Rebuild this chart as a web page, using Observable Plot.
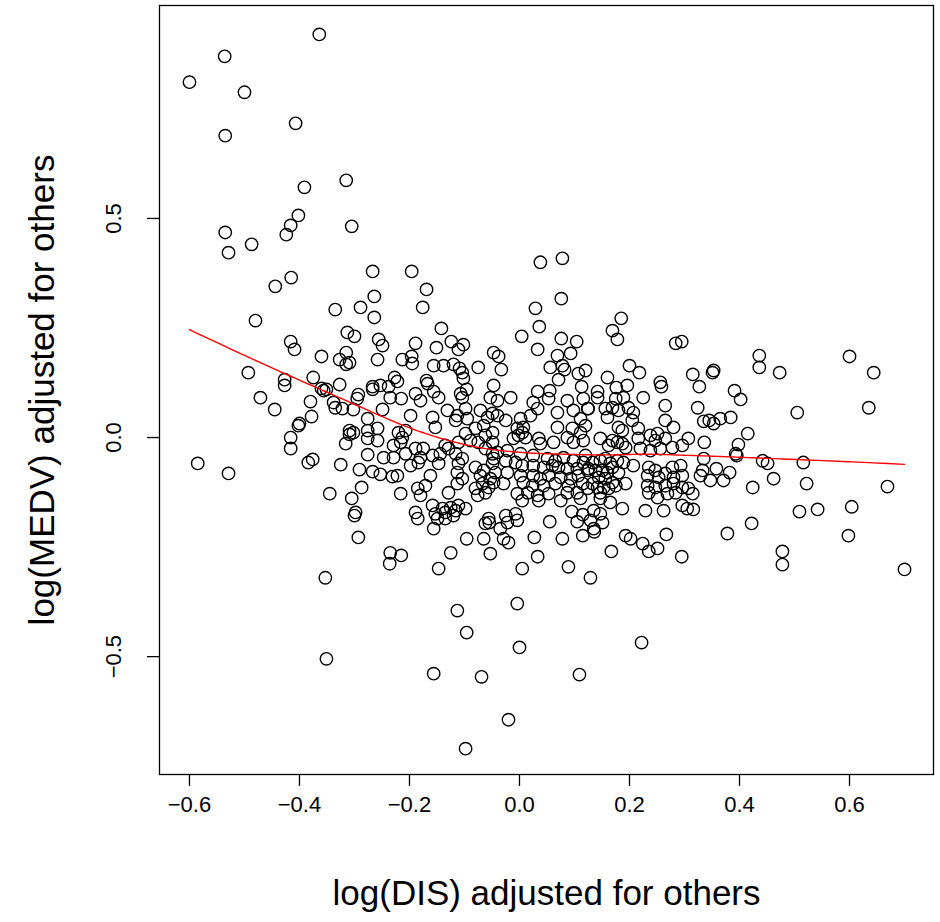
<!DOCTYPE html>
<html>
<head>
<meta charset="utf-8">
<script src="https://cdn.jsdelivr.net/npm/d3@7"></script>
<script src="https://cdn.jsdelivr.net/npm/@observablehq/plot@0.6"></script>
<style>
  html, body { margin: 0; padding: 0; background: white; }
</style>
</head>
<body>
<div id="chart"></div>
<script>
// Partial-residual style scatter: [log(DIS) adjusted, log(MEDV) adjusted]
const topLeft = [[-0.364,0.920],[-0.536,0.870],[-0.600,0.811],[-0.500,0.788],[-0.407,0.717],[-0.535,0.689],[-0.391,0.571],[-0.315,0.587],[-0.402,0.507],[-0.416,0.484],[-0.424,0.463],[-0.305,0.482],[-0.535,0.468],[-0.487,0.441],[-0.529,0.422],[0.038,0.400],[0.078,0.409]];
const upperLeft = [[-0.267,0.379],[-0.196,0.379],[-0.415,0.365],[-0.444,0.345],[-0.264,0.322],[-0.289,0.297],[-0.335,0.292],[-0.264,0.274],[-0.480,0.267],[-0.313,0.240],[-0.300,0.231],[-0.256,0.224],[-0.249,0.210],[-0.416,0.219],[-0.409,0.201],[-0.189,0.215],[-0.360,0.185],[-0.315,0.194],[-0.327,0.178],[-0.309,0.171],[-0.315,0.167],[-0.258,0.178],[-0.213,0.178],[-0.196,0.185],[-0.195,0.169],[-0.493,0.148],[-0.427,0.132],[-0.427,0.119],[-0.375,0.137],[-0.327,0.121],[-0.360,0.112],[-0.351,0.110],[-0.356,0.107],[-0.267,0.116],[-0.267,0.110],[-0.253,0.119],[-0.238,0.116],[-0.227,0.137],[-0.222,0.128],[-0.293,0.098],[-0.295,0.089],[-0.235,0.091],[-0.189,0.100]];
const middleLeft = [[-0.471,0.091],[-0.445,0.064],[-0.380,0.082],[-0.378,0.048],[-0.400,0.032],[-0.402,0.027],[-0.338,0.080],[-0.335,0.068],[-0.322,0.066],[-0.302,0.064],[-0.249,0.064],[-0.276,0.043],[-0.309,0.016],[-0.302,0.011],[-0.309,0.007],[-0.276,0.016],[-0.258,0.021],[-0.276,-0.002],[-0.258,-0.007],[-0.316,-0.014],[-0.229,-0.018],[-0.416,0.000],[-0.416,-0.025],[-0.276,-0.039],[-0.247,-0.046],[-0.229,-0.046],[-0.384,-0.057],[-0.376,-0.050],[-0.325,-0.062],[-0.291,-0.073],[-0.267,-0.078],[-0.253,-0.084],[-0.231,-0.089],[-0.585,-0.059],[-0.529,-0.082],[-0.287,-0.114],[-0.345,-0.128],[-0.305,-0.139],[-0.298,-0.171]];
const lowerLeft = [[-0.300,-0.178],[-0.293,-0.228],[-0.235,-0.263],[-0.215,-0.269],[-0.236,-0.288],[-0.353,-0.320],[-0.351,-0.505]];
const upperCentre = [[-0.169,0.338],[-0.176,0.297],[0.076,0.317],[0.029,0.295],[0.036,0.253],[0.185,0.272],[0.169,0.244],[0.178,0.224],[-0.142,0.249],[0.004,0.231],[0.076,0.226],[0.104,0.219],[0.033,0.201],[-0.151,0.205],[-0.124,0.219],[-0.111,0.201],[-0.102,0.212],[-0.047,0.194],[-0.038,0.185],[0.069,0.187],[0.093,0.192],[-0.156,0.164],[-0.138,0.164],[-0.120,0.167],[-0.109,0.158],[-0.104,0.148],[-0.102,0.135],[-0.075,0.160],[-0.033,0.155],[0.056,0.160],[0.078,0.164],[0.082,0.155],[0.071,0.132],[0.107,0.146],[0.120,0.153],[0.160,0.137],[0.200,0.164],[0.218,0.148],[0.256,0.126],[0.258,0.116],[-0.169,0.130],[-0.167,0.123],[-0.156,0.105],[-0.047,0.119],[-0.096,0.110],[-0.107,0.100],[0.033,0.105],[0.055,0.107],[0.113,0.116],[0.142,0.105],[0.176,0.114],[0.196,0.119]];
const centreLeft = [[-0.215,0.089],[-0.180,0.084],[-0.147,0.091],[-0.104,0.091],[-0.053,0.091],[-0.198,0.050],[-0.158,0.046],[-0.131,0.062],[-0.113,0.050],[-0.098,0.066],[-0.071,0.062],[-0.058,0.046],[-0.049,0.055],[-0.153,0.023],[-0.116,0.039],[-0.095,0.043],[-0.065,0.027],[-0.220,0.011],[-0.213,0.000],[-0.216,-0.011],[-0.207,0.016],[-0.098,0.009],[-0.080,0.021],[-0.062,0.005],[-0.049,0.011],[-0.189,-0.025],[-0.175,-0.025],[-0.135,-0.018],[-0.129,-0.025],[-0.144,-0.037],[-0.111,-0.011],[-0.089,-0.007],[-0.075,-0.011],[-0.207,-0.037],[-0.180,-0.046],[-0.158,-0.041],[-0.116,-0.037],[-0.104,-0.048],[-0.062,-0.025],[-0.049,-0.037],[-0.198,-0.064],[-0.184,-0.057],[-0.147,-0.059],[-0.111,-0.059],[-0.080,-0.068],[-0.065,-0.075],[-0.049,-0.059],[-0.222,-0.087],[-0.162,-0.087],[-0.113,-0.080],[-0.104,-0.094],[-0.071,-0.087],[-0.053,-0.094],[-0.185,-0.116],[-0.171,-0.110],[-0.129,-0.126],[-0.113,-0.105],[-0.080,-0.116],[-0.067,-0.105],[-0.056,-0.114],[-0.216,-0.128],[-0.180,-0.132],[-0.076,-0.132],[-0.062,-0.126],[-0.158,-0.155],[-0.140,-0.162],[-0.125,-0.160],[-0.111,-0.155],[-0.098,-0.162],[-0.153,-0.174],[-0.135,-0.171],[-0.116,-0.167],[-0.189,-0.171],[-0.185,-0.185],[-0.149,-0.185],[-0.135,-0.185],[-0.120,-0.178],[-0.056,-0.185],[-0.062,-0.196]];
const centre = [[-0.040,0.084],[-0.016,0.091],[0.025,0.080],[0.053,0.089],[0.087,0.084],[0.116,0.089],[-0.040,0.050],[-0.025,0.039],[0.002,0.043],[0.020,0.050],[0.033,0.066],[0.069,0.057],[0.098,0.062],[0.111,0.043],[0.124,0.066],[-0.004,0.021],[0.005,0.011],[0.007,0.023],[-0.002,0.005],[-0.011,-0.002],[0.011,0.000],[0.035,-0.002],[0.069,0.023],[0.096,0.021],[0.111,0.011],[-0.049,-0.011],[0.038,-0.014],[0.062,-0.011],[0.087,0.000],[0.098,-0.011],[0.116,-0.007],[-0.040,-0.034],[-0.022,-0.030],[0.002,-0.037],[0.025,-0.041],[0.051,-0.048],[0.065,-0.053],[0.080,-0.046],[0.098,-0.053],[0.116,-0.057],[-0.047,-0.048],[-0.025,-0.053],[-0.007,-0.057],[0.005,-0.064],[0.025,-0.064],[0.044,-0.068],[0.060,-0.064],[0.071,-0.068],[0.087,-0.071],[0.105,-0.071],[0.124,-0.075],[-0.044,-0.080],[-0.022,-0.080],[0.002,-0.087],[0.025,-0.087],[0.038,-0.094],[0.053,-0.087],[0.075,-0.091],[0.093,-0.094],[0.107,-0.087],[-0.047,-0.103],[-0.029,-0.105],[0.007,-0.103],[0.024,-0.110],[0.044,-0.110],[0.065,-0.105],[0.089,-0.110],[0.115,-0.105],[-0.004,-0.128],[0.015,-0.126],[0.033,-0.132],[0.053,-0.128],[0.087,-0.126],[0.105,-0.126],[0.124,-0.116],[0.005,-0.144],[0.035,-0.144],[0.075,-0.144],[0.111,-0.139],[-0.025,-0.178],[-0.007,-0.174],[-0.022,-0.194],[-0.004,-0.189]];
const centreRight = [[0.142,0.091],[0.175,0.089],[0.189,0.091],[0.225,0.091],[0.265,0.073],[0.125,0.066],[0.156,0.066],[0.169,0.068],[0.180,0.062],[0.198,0.068],[0.207,0.057],[0.160,0.046],[0.205,0.039],[0.265,0.039],[0.280,0.023],[0.180,0.023],[0.187,0.016],[0.216,0.021],[0.120,0.027],[0.147,-0.002],[0.169,-0.007],[0.178,-0.011],[0.187,-0.014],[0.162,-0.018],[0.193,-0.023],[0.216,-0.002],[0.238,0.005],[0.251,0.009],[0.247,-0.007],[0.265,-0.002],[0.220,-0.025],[0.238,-0.030],[0.256,-0.025],[0.278,-0.023],[0.296,-0.018],[0.120,-0.041],[0.133,-0.057],[0.147,-0.053],[0.156,-0.048],[0.165,-0.059],[0.178,-0.053],[0.189,-0.057],[0.207,-0.064],[0.125,-0.071],[0.138,-0.075],[0.151,-0.075],[0.160,-0.080],[0.169,-0.068],[0.180,-0.080],[0.144,-0.091],[0.156,-0.094],[0.169,-0.103],[0.133,-0.105],[0.142,-0.114],[0.153,-0.114],[0.147,-0.126],[0.162,-0.116],[0.175,-0.110],[0.193,-0.105],[0.235,-0.068],[0.247,-0.075],[0.265,-0.082],[0.278,-0.068],[0.293,-0.064],[0.233,-0.087],[0.253,-0.091],[0.280,-0.091],[0.296,-0.087],[0.233,-0.110],[0.247,-0.114],[0.265,-0.110],[0.280,-0.105],[0.296,-0.114],[0.235,-0.126],[0.251,-0.137],[0.269,-0.128],[0.284,-0.126],[0.147,-0.139],[0.165,-0.148],[0.187,-0.162],[0.229,-0.167],[0.262,-0.167],[0.296,-0.155],[0.135,-0.167],[0.147,-0.174],[0.129,-0.189],[0.151,-0.194]];
const rightSide = [[0.284,0.215],[0.295,0.219],[0.436,0.187],[0.436,0.160],[0.473,0.148],[0.600,0.185],[0.644,0.148],[0.635,0.068],[0.505,0.057],[0.315,0.144],[0.327,0.116],[0.351,0.148],[0.353,0.153],[0.391,0.107],[0.402,0.087],[0.324,0.068],[0.335,0.037],[0.345,0.039],[0.353,0.032],[0.365,0.043],[0.384,0.046],[0.307,-0.002],[0.336,-0.011],[0.415,0.009],[0.398,-0.016],[0.393,-0.037],[0.395,-0.041],[0.442,-0.053],[0.451,-0.059],[0.516,-0.057],[0.335,-0.048],[0.358,-0.071],[0.382,-0.080],[0.333,-0.075],[0.329,-0.087],[0.347,-0.098],[0.371,-0.098],[0.424,-0.114],[0.462,-0.094],[0.522,-0.105],[0.669,-0.112],[0.307,-0.116],[0.315,-0.128],[0.305,-0.162],[0.316,-0.164],[0.295,-0.272],[0.378,-0.219],[0.422,-0.196],[0.478,-0.260],[0.478,-0.290],[0.509,-0.169],[0.542,-0.164],[0.604,-0.158],[0.598,-0.224],[0.700,-0.301]];
const lowerCentre = [[-0.156,-0.208],[-0.125,-0.263],[-0.147,-0.299],[-0.096,-0.231],[-0.055,-0.194],[-0.065,-0.231],[-0.053,-0.265],[-0.035,-0.208],[-0.029,-0.231],[-0.020,-0.240],[0.027,-0.228],[0.033,-0.272],[0.005,-0.299],[0.055,-0.192],[0.095,-0.169],[0.115,-0.176],[0.105,-0.192],[0.078,-0.231],[0.089,-0.295],[0.115,-0.224],[0.135,-0.208],[0.136,-0.215],[0.129,-0.320],[0.167,-0.260],[0.193,-0.224],[0.202,-0.231],[0.224,-0.242],[0.235,-0.260],[0.251,-0.253],[0.267,-0.221],[-0.113,-0.395],[-0.096,-0.445],[-0.004,-0.379],[0.000,-0.479],[-0.156,-0.539],[-0.069,-0.546],[0.109,-0.541],[0.222,-0.468],[-0.020,-0.644],[-0.098,-0.710]];

const xTicks = [-0.6, -0.4, -0.2, 0.0, 0.2, 0.4, 0.6];
const yTicks = [-0.5, 0.0, 0.5];
const xLabel = "log(DIS) adjusted for others";
const yLabel = "log(MEDV) adjusted for others";

const points = [].concat(topLeft, upperLeft, middleLeft, lowerLeft, upperCentre, centreLeft, centre, centreRight, rightSide, lowerCentre)
  .map(([x, y]) => ({x, y}));

// R-style lowess (f = 2/3, iter = 3)
function lowess(xs, ys, f = 2/3, iter = 3) {
  const n = xs.length;
  const order = d3.range(n).sort((a, b) => xs[a] - xs[b]);
  const x = order.map(i => xs[i]), y = order.map(i => ys[i]);
  const ns = Math.max(2, Math.min(n, Math.floor(f * n + 1e-7)));
  let rw = new Array(n).fill(1);
  let fit = new Array(n).fill(0);
  for (let it = 0; it <= iter; it++) {
    let nleft = 0, nright = ns - 1;
    for (let i = 0; i < n; i++) {
      while (nright < n - 1 && x[i] - x[nleft] > x[nright + 1] - x[i]) { nleft++; nright++; }
      const h = Math.max(x[i] - x[nleft], x[nright] - x[i]);
      const h9 = 0.999 * h, h1 = 0.001 * h;
      let sw = 0, sx = 0, sy = 0;
      const ws = [];
      for (let j = 0; j < n; j++) {
        const r = Math.abs(x[j] - x[i]);
        let w = 0;
        if (r <= h9) {
          w = r <= h1 ? 1 : Math.pow(1 - Math.pow(r / h, 3), 3);
          w *= rw[j];
        }
        ws.push(w);
        sw += w; sx += w * x[j]; sy += w * y[j];
      }
      if (sw <= 0) { fit[i] = y[i]; continue; }
      const mx = sx / sw, my = sy / sw;
      let sxx = 0, sxy = 0;
      for (let j = 0; j < n; j++) {
        if (ws[j] === 0) continue;
        sxx += ws[j] * (x[j] - mx) * (x[j] - mx);
        sxy += ws[j] * (x[j] - mx) * (y[j] - my);
      }
      fit[i] = sxx > 1e-12 ? my + (sxy / sxx) * (x[i] - mx) : my;
    }
    if (it === iter) break;
    const res = y.map((v, k) => v - fit[k]);
    const cmad = 6 * d3.median(res.map(Math.abs));
    rw = res.map(r => {
      const u = Math.abs(r) / cmad;
      if (u < 0.001) return 1;
      if (u > 0.999) return 0;
      return Math.pow(1 - u * u, 2);
    });
  }
  return x.map((v, k) => ({x: v, y: fit[k]}));
}

const smooth = lowess(points.map(d => d.x), points.map(d => d.y));
const fmt = d3.format(".1f");
const font = "'Liberation Sans', Arial, Helvetica, sans-serif";

const chart = Plot.plot({
  width: 940,
  height: 922,
  marginLeft: 159,
  marginRight: 7,
  marginTop: 5,
  marginBottom: 148,
  style: {fontFamily: font, background: "white", color: "black"},
  x: {domain: [-0.6545, 0.7527]},
  y: {domain: [-0.769, 0.986]},
  marks: [
    Plot.dot(points, {x: "x", y: "y", r: 6.2, stroke: "black", strokeWidth: 1.4, fill: "none"}),
    Plot.line(smooth, {x: "x", y: "y", stroke: "red", strokeWidth: 1.4}),
    Plot.frame({stroke: "black", strokeWidth: 1.3}),
    Plot.axisX({ticks: xTicks, tickSize: 12, tickPadding: 10, tickFormat: fmt, fontSize: 22, label: null, strokeWidth: 1.3}),
    Plot.axisY({ticks: yTicks, tickSize: 12, tickFormat: () => "", label: null, strokeWidth: 1.3}),
    Plot.text(yTicks, {y: d => d, text: d => fmt(d), frameAnchor: "left", dx: -46, rotate: -90, fontSize: 22, textAnchor: "middle", lineAnchor: "middle"}),
    Plot.text([xLabel], {frameAnchor: "bottom", dy: 119, fontSize: 35, textAnchor: "middle", lineAnchor: "middle"}),
    Plot.text([yLabel], {frameAnchor: "left", dx: -117, rotate: -90, fontSize: 35, textAnchor: "middle", lineAnchor: "middle"})
  ]
});
document.getElementById("chart").appendChild(chart);
</script>
</body>
</html>
